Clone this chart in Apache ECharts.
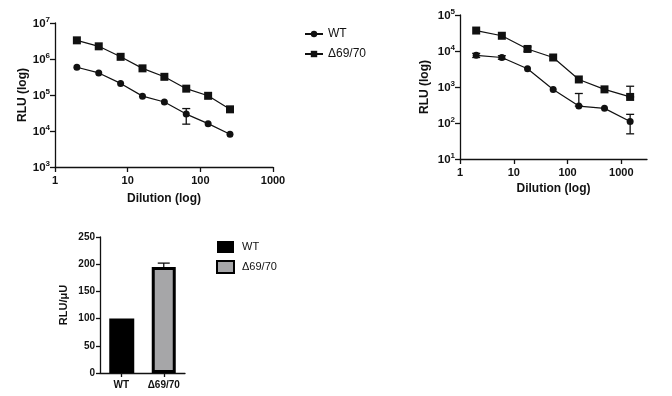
<!DOCTYPE html>
<html>
<head>
<meta charset="utf-8">
<script src="https://cdn.jsdelivr.net/npm/echarts@6/dist/echarts.min.js"></script>
<style>
html, body { margin: 0; padding: 0; background: #fff; }
#chart { width: 672px; height: 396px; }
</style>
</head>
<body>
<div id="chart"></div>
<script>
// panel A: 2-fold dilutions
const dilA = [2, 4, 8, 16, 32, 64, 128, 256];
const wtA = [5.9e5, 4.1e5, 2.1e5, 9.3e4, 6.4e4, 2.95e4, 1.6e4, 8.1e3];
const mutA = [3.3e6, 2.25e6, 1.15e6, 5.5e5, 3.2e5, 1.5e5, 9.5e4, 4.0e4];
const wtAErr = [[64, 1.55e4, 4.2e4]];
// panel B: 3-fold dilutions
const dilB = [2, 6, 18, 54, 162, 486, 1458];
const wtB = [7.6e3, 6.6e3, 3.2e3, 8.5e2, 2.95e2, 2.55e2, 1.1e2];
const mutB = [3.7e4, 2.65e4, 1.14e4, 6.6e3, 1.62e3, 8.6e2, 5.3e2];
const wtBErr = [[2, 6.6e3, 8.6e3], [6, 5.9e3, 7.4e3], [162, 2.95e2, 6.6e2], [1458, 50, 1.74e2]];
const mutBErr = [[18, 9.8e3, 1.3e4], [1458, 5.3e2, 1.05e3]];
// panel C: RLU per μU
const barCats = ['WT', 'Δ69/70'];
const barVals = [100, 195];
const barErr = [[1, 195, 202]];

const fontFam = 'Arial, "Liberation Sans", sans-serif';
const ink = '#111';

const supLabel = v => {
    const e = Math.round(Math.log10(v));
    return '{b|10}{e|' + e + '}';
};
const supRich = {
    b: { fontSize: 11.5, fontWeight: 'bold', color: ink, fontFamily: fontFam, lineHeight: 14, verticalAlign: 'bottom' },
    e: { fontSize: 8, fontWeight: 'bold', color: ink, fontFamily: fontFam, lineHeight: 14, verticalAlign: 'top', padding: [0, 0, 4, 0] }
};

const axisLineStyle = { show: true, lineStyle: { color: ink, width: 1.3 } };
const axisTickStyle = { show: true, length: 5, lineStyle: { color: ink, width: 1.3 } };

const logX = (grid, max, ticks, gap) => ({
    type: 'log', logBase: 10, gridIndex: grid, min: 1, max: max,
    name: 'Dilution (log)', nameLocation: 'middle', nameGap: gap,
    nameTextStyle: { fontSize: 12, fontWeight: 'bold', color: ink, fontFamily: fontFam },
    axisLine: axisLineStyle,
    axisTick: Object.assign({ customValues: ticks }, axisTickStyle),
    minorTick: { show: false },
    splitLine: { show: false },
    axisLabel: {
        customValues: ticks, formatter: v => String(Math.round(v)),
        fontSize: 11, fontWeight: 'bold', color: ink, fontFamily: fontFam, margin: 8
    }
});
const logY = (grid, min, max, gap) => ({
    type: 'log', logBase: 10, gridIndex: grid, min: min, max: max,
    name: 'RLU (log)', nameLocation: 'middle', nameGap: gap, nameRotate: 90,
    nameTextStyle: { fontSize: 12, fontWeight: 'bold', color: ink, fontFamily: fontFam },
    axisLine: axisLineStyle,
    axisTick: axisTickStyle,
    splitLine: { show: false },
    axisLabel: { formatter: supLabel, rich: supRich, margin: 5 }
});

const lineSeries = (name, xs, ys, idx, symbol, size) => ({
    name: name, type: 'line', xAxisIndex: idx, yAxisIndex: idx,
    data: xs.map((x, i) => [x, ys[i]]),
    symbol: symbol, symbolSize: size,
    itemStyle: { color: ink },
    lineStyle: { color: ink, width: 1.2 },
    z: 3
});

const errSeries = (data, idx, cap) => ({
    type: 'custom', xAxisIndex: idx, yAxisIndex: idx,
    data: data, silent: true, z: 4,
    renderItem: (params, api) => {
        const lo = api.coord([api.value(0), api.value(1)]);
        const hi = api.coord([api.value(0), api.value(2)]);
        const st = { stroke: ink, lineWidth: 1.3 };
        return {
            type: 'group',
            children: [
                { type: 'line', shape: { x1: lo[0], y1: lo[1], x2: hi[0], y2: hi[1] }, style: st },
                { type: 'line', shape: { x1: hi[0] - cap, y1: hi[1], x2: hi[0] + cap, y2: hi[1] }, style: st },
                { type: 'line', shape: { x1: lo[0] - cap, y1: lo[1], x2: lo[0] + cap, y2: lo[1] }, style: st }
            ]
        };
    }
});

const chart = echarts.init(document.getElementById('chart'));
const option = {
    backgroundColor: '#fff',
    animation: false,
    grid: [
        { left: 55, top: 23, width: 218, height: 144 },
        { left: 460, top: 15, width: 187, height: 144 },
        { left: 100, top: 237, width: 85, height: 136 }
    ],
    legend: [
        {
            data: ['WT', 'Δ69/70'],
            left: 304, top: 28, padding: 0, orient: 'vertical', itemGap: 8,
            itemWidth: 18, itemHeight: 8,
            textStyle: { fontSize: 12, color: ink, fontFamily: fontFam }
        },
        {
            data: ['WT ', 'Δ69/70 '],
            left: 216, top: 241, padding: 0, orient: 'vertical', itemGap: 7,
            itemWidth: 17, itemHeight: 12, icon: 'rect',
            textStyle: { fontSize: 11, color: ink, fontFamily: fontFam, padding: [0, 0, 0, 3] }
        }
    ],
    xAxis: [
        logX(0, 1000, [1, 10, 100, 1000], 26),
        logX(1, 3000, [1, 10, 100, 1000], 24),
        {
            type: 'category', gridIndex: 2, data: barCats,
            axisLine: axisLineStyle,
            axisTick: { show: true, alignWithLabel: true, length: 4, lineStyle: { color: ink, width: 1.3 } },
            axisLabel: { fontSize: 10, fontWeight: 'bold', color: ink, fontFamily: fontFam, margin: 7 }
        }
    ],
    yAxis: [
        logY(0, 1e3, 1e7, 25),
        logY(1, 10, 1e5, 29),
        {
            type: 'value', gridIndex: 2, min: 0, max: 250, interval: 50,
            name: 'RLU/μU', nameLocation: 'middle', nameGap: 31, nameRotate: 90,
            nameTextStyle: { fontSize: 11, fontWeight: 'bold', color: ink, fontFamily: fontFam },
            axisLine: axisLineStyle,
            axisTick: { show: true, length: 4, lineStyle: { color: ink, width: 1.3 } },
            splitLine: { show: false },
            axisLabel: { fontSize: 10, fontWeight: 'bold', color: ink, fontFamily: fontFam, margin: 5 }
        }
    ],
    series: [
        lineSeries('WT', dilA, wtA, 0, 'circle', 7),
        lineSeries('Δ69/70', dilA, mutA, 0, 'rect', 8),
        errSeries(wtAErr, 0, 4),
        lineSeries('WT', dilB, wtB, 1, 'circle', 7),
        lineSeries('Δ69/70', dilB, mutB, 1, 'rect', 8),
        errSeries(wtBErr, 1, 4),
        errSeries(mutBErr, 1, 4),
        {
            name: 'WT ', type: 'bar', xAxisIndex: 2, yAxisIndex: 2,
            data: [barVals[0], '-'], barWidth: 25, barGap: '-100%',
            itemStyle: { color: '#000' }
        },
        {
            name: 'Δ69/70 ', type: 'bar', xAxisIndex: 2, yAxisIndex: 2,
            data: ['-', barVals[1]], barWidth: 24,
            itemStyle: { color: '#a6a6a8', borderColor: '#000', borderWidth: 3 }
        },
        {
            type: 'custom', xAxisIndex: 2, yAxisIndex: 2, data: barErr, z: 1, silent: true,
            renderItem: (params, api) => {
                const lo = api.coord([api.value(0), api.value(1)]);
                const hi = api.coord([api.value(0), api.value(2)]);
                const st = { stroke: ink, lineWidth: 1.3 };
                return {
                    type: 'group',
                    children: [
                        { type: 'line', shape: { x1: lo[0], y1: lo[1], x2: hi[0], y2: hi[1] }, style: st },
                        { type: 'line', shape: { x1: hi[0] - 6, y1: hi[1], x2: hi[0] + 6, y2: hi[1] }, style: st }
                    ]
                };
            }
        }
    ]
};
chart.setOption(option);
</script>
</body>
</html>
